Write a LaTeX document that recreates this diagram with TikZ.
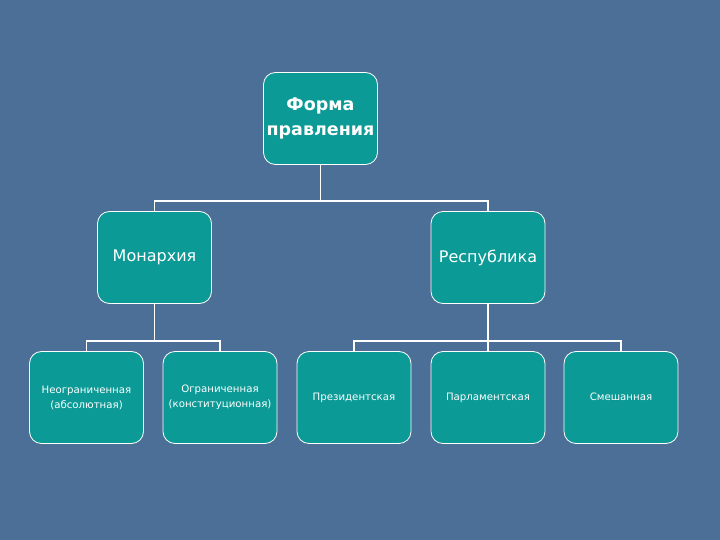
\documentclass[tikz,border=0pt]{standalone}
\usepackage{fontspec}
\setmainfont{DejaVu Sans}
\usepackage{tikz}
\definecolor{slate}{RGB}{76, 111, 151}
\definecolor{sea}{RGB}{12, 154, 150}
\newcommand*{\barY}{201}
\newcommand*{\subbarY}{341}

\tikzset{
  box/.style={draw=white, line width=0.8pt, fill=sea, rounded corners=12pt,
    minimum width=114pt, minimum height=92pt, text=white, align=center, inner sep=2pt},
  big/.style={font=\fontsize{16}{20}\selectfont},
  small/.style={font=\fontsize{10.2}{15}\selectfont},
  oneline/.style={small, text height=1.6ex, text depth=0.5ex},
  link/.style={draw=white, line width=1.4pt}
}

\begin{document}
\begin{tikzpicture}[x=1pt, y=-1pt]
  \fill [slate] (0, 0) rectangle (720, 540);

  \node[box, font=\bfseries\fontsize{17.5}{25}\selectfont] (form) at (320.5, 118.5) {Форма\\правления};

  \node[box, big] (mon) at (154.5, 257.5) {Монархия};
  \node[box, big] (rep) at (488, 257.5) {Республика};

  \node[box, small] (abs) at (86.5, 397.5) {Неограниченная\\(абсолютная)};
  \node[box, small] (lim) at (220, 397.5) {Ограниченная\\(конституционная)};
  \node[box, oneline] (pres) at (354, 397.5) {Президентская};
  \node[box, oneline] (parl) at (488, 397.5) {Парламентская};
  \node[box, oneline] (mix) at (621, 397.5) {Смешанная};

  \coordinate (top) at (320.5, \barY);
  \coordinate (left) at (154.5, \subbarY);
  \coordinate (right) at (488, \subbarY);

  \draw [link] (form.south) -- (top);
  \draw [link] (top) -| (mon.north);
  \draw [link] (top) -| (rep.north);

  \draw [link] (mon.south) -- (left);
  \draw [link] (left) -| (abs.north);
  \draw [link] (left) -| (lim.north);

  \draw [link] (rep.south) -- (parl.north);
  \draw [link] (right) -| (pres.north);
  \draw [link] (right) -| (mix.north);
\end{tikzpicture}
\end{document}
